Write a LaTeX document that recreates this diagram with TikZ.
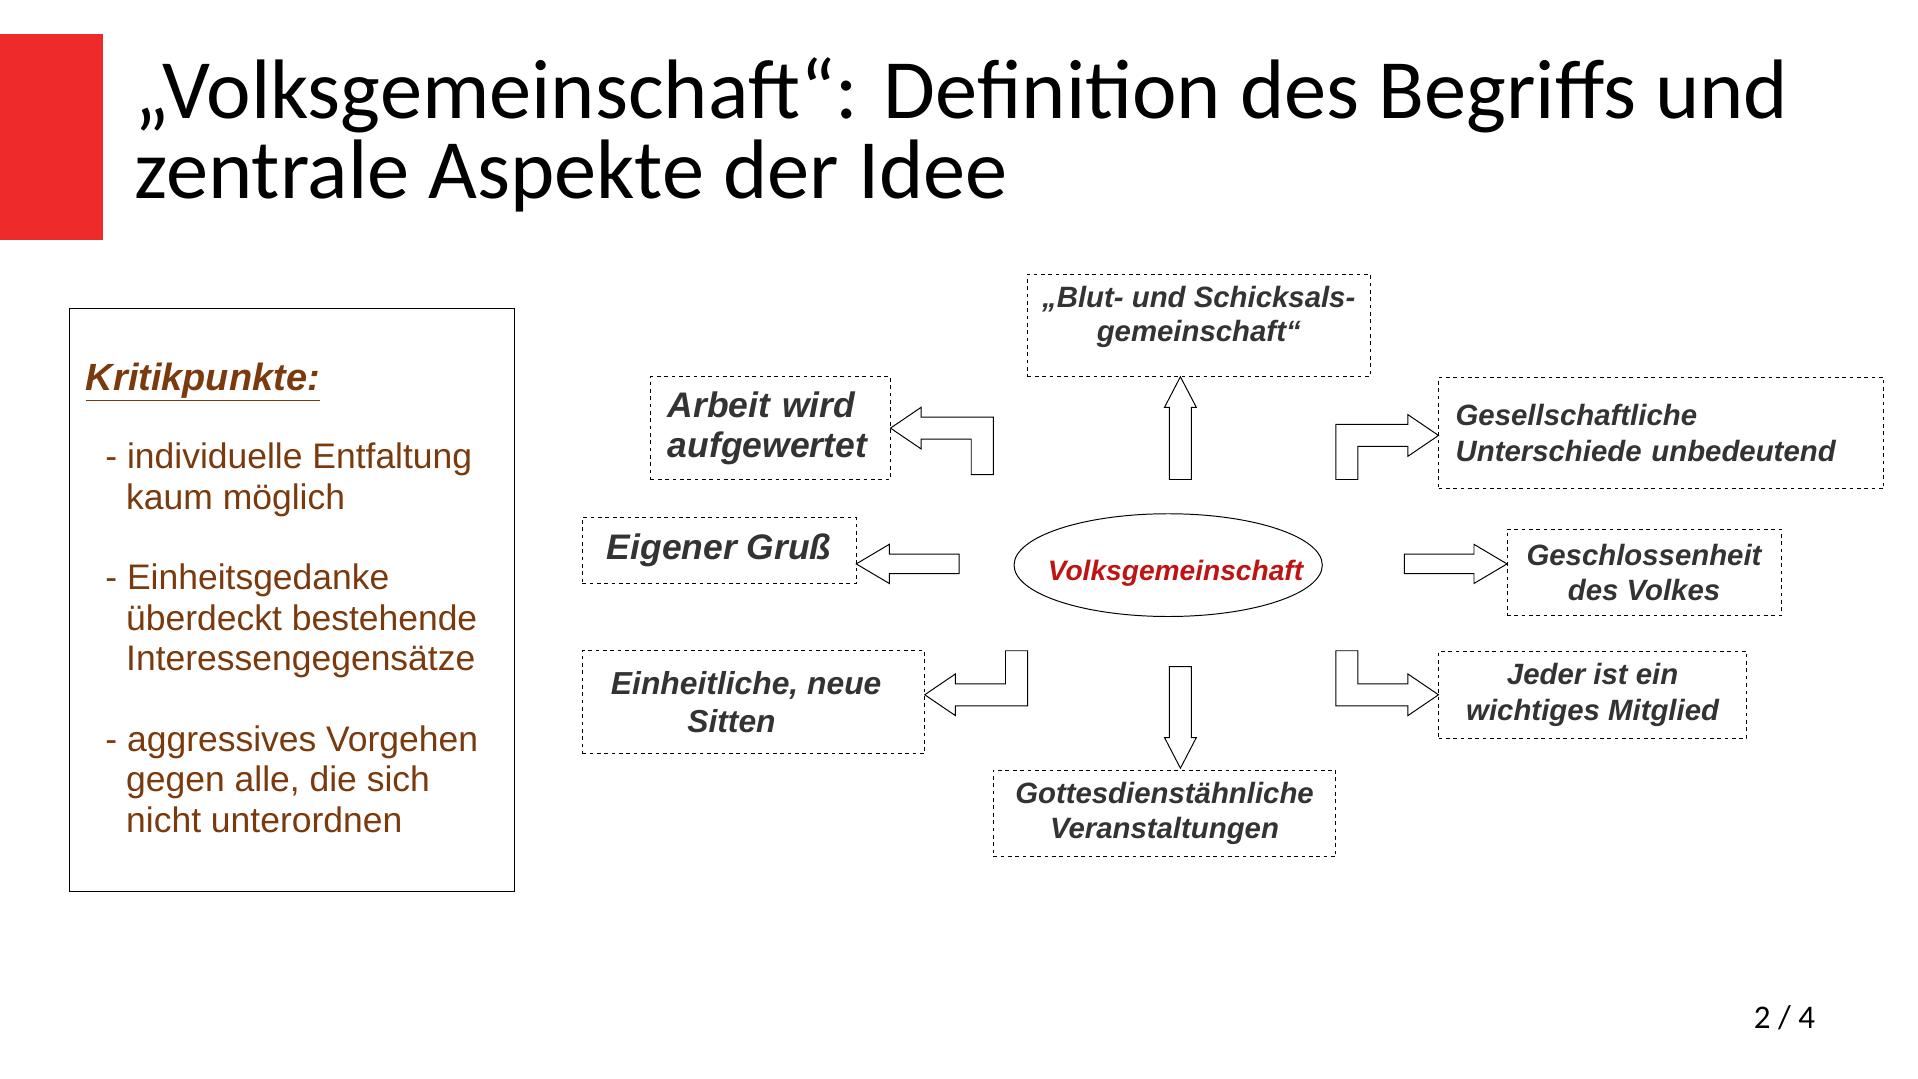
\documentclass[tikz,border=0pt]{standalone}
\usepackage{fontspec}
\setmainfont{Liberation Sans}
\newfontfamily\titlefont{Carlito}
\usetikzlibrary{shapes.geometric}
\definecolor{titlered}{HTML}{EE2A2A}
\definecolor{brn}{HTML}{7A3A0E}
\definecolor{dk}{HTML}{333333}
\definecolor{cred}{HTML}{BE1414}
\tikzset{
 dbox/.style={draw,dashed,thick,inner sep=0pt,text=dk,align=center},
 lbox/.style={dbox,align=left,text width=#1},
 barrow/.style={draw,thick,fill=white}
}
\begin{document}
\begin{tikzpicture}[x=1pt,y=-1pt]
\useasboundingbox (0,0) rectangle (1568,882);
\fill[white] (0,0) rectangle (1568,882);
\fill[titlered] (0,28) rectangle (84,196);
\node[anchor=base west,inner sep=0pt,font=\titlefont\fontsize{69}{72}\selectfont] (t1) at (110,97) {„Volksgemeinschaft“: Definition des Begriffs und};
\node[anchor=base west,inner sep=0pt,font=\titlefont\fontsize{69}{72}\selectfont] (t2) at (110,162) {zentrale Aspekte der Idee};
\node[draw,thick,minimum width=364pt,minimum height=476pt,anchor=north west] (krit) at (56,252) {};
\node[anchor=base west,inner sep=0pt,text=brn,font=\fontsize{31}{34}\selectfont\bfseries\itshape] (kt) at (70,319) {\underline{Kritikpunkte:}};
\node[anchor=north west,inner sep=0pt,text=brn,align=left,font=\fontsize{29}{33}\selectfont] (k1) at (86,362) {- individuelle Entfaltung\\\hspace*{17pt}kaum möglich};
\node[anchor=north west,inner sep=0pt,text=brn,align=left,font=\fontsize{29}{33}\selectfont] (k2) at (86,461) {- Einheitsgedanke\\\hspace*{17pt}überdeckt bestehende\\\hspace*{17pt}Interessengegensätze};
\node[anchor=north west,inner sep=0pt,text=brn,align=left,font=\fontsize{29}{33}\selectfont] (k3) at (86,593) {- aggressives Vorgehen\\\hspace*{17pt}gegen alle, die sich\\\hspace*{17pt}nicht unterordnen};
\node[draw,thick,ellipse,minimum width=252pt,minimum height=84pt,inner sep=0pt] (c) at (955,462) {};
\node[inner sep=0pt,text=cred,font=\fontsize{23}{26}\selectfont\bfseries\itshape] (ct) at (961,469) {Volksgemeinschaft};
\node[dbox,minimum width=280pt,minimum height=84pt] (b1) at (980,266) {};
\node[inner sep=0pt,text=dk,align=center,font=\fontsize{24}{28}\selectfont\bfseries\itshape] (b1t) at (980,259) {„Blut- und Schicksals-\\gemeinschaft“};
\node[lbox=196pt,minimum height=84pt,font=\fontsize{29}{33}\selectfont\bfseries\itshape] (b2) at (630,350) {\hspace*{14pt}Arbeit wird\\\hspace*{14pt}aufgewertet};
\node[lbox=364pt,minimum height=91pt,font=\fontsize{24}{29}\selectfont\bfseries\itshape] (b3) at (1358,354) {\hspace*{14pt}Gesellschaftliche\\\hspace*{14pt}Unterschiede unbedeutend};
\node[dbox,minimum width=224pt,minimum height=54pt,font=\fontsize{29}{33}\selectfont\bfseries\itshape] (b4) at (588,450) {Eigener Gruß};
\node[dbox,minimum width=224pt,minimum height=71pt,font=\fontsize{24}{29}\selectfont\bfseries\itshape] (b5) at (1344,468) {Geschlossenheit\\des Volkes};
\node[dbox,minimum width=280pt,minimum height=84pt,font=\fontsize{26}{31}\selectfont\bfseries\itshape] (b6) at (616,574) {\hspace*{-12pt}Einheitliche, neue\\\hspace*{-36pt}Sitten};
\node[dbox,minimum width=252pt,minimum height=71pt,font=\fontsize{24}{29}\selectfont\bfseries\itshape] (b7) at (1302,568) {Jeder ist ein\\wichtiges Mitglied};
\node[dbox,minimum width=280pt,minimum height=71pt,font=\fontsize{24}{29}\selectfont\bfseries\itshape] (b8) at (952,665) {Gottesdienstähnliche\\Veranstaltungen};
\draw[barrow] (956,392) -- (956,333) -- (952,333) -- (965,308) -- (978,333) -- (974,333) -- (974,392) -- cycle;
\draw[barrow] (956,545) -- (956,603) -- (952,603) -- (965,628) -- (978,603) -- (974,603) -- (974,545) -- cycle;
\draw[barrow] (784,453)--(727,453)--(727,445)--(700,461)--(727,477)--(727,469)--(784,469)--cycle;
\draw[barrow] (1148,453)--(1205,453)--(1205,445)--(1232,461)--(1205,477)--(1205,469)--(1148,469)--cycle;
\draw[barrow] (812,388) -- (812,341) -- (753,341) -- (753,333) -- (728,350) -- (753,367) -- (753,359) -- (794,359) -- (794,388) -- cycle;
\draw[barrow] (840,532) -- (840,577) -- (781,577) -- (781,585) -- (756,568) -- (781,551) -- (781,559) -- (822,559) -- (822,532) -- cycle;
\draw[barrow] (1092,392) -- (1092,347) -- (1151,347) -- (1151,339) -- (1176,356) -- (1151,373) -- (1151,365) -- (1110,365) -- (1110,392) -- cycle;
\draw[barrow] (1092,532) -- (1092,577) -- (1151,577) -- (1151,585) -- (1176,568) -- (1151,551) -- (1151,559) -- (1110,559) -- (1110,532) -- cycle;
\node[anchor=base east,inner sep=0pt,font=\titlefont\fontsize{27}{30}\selectfont] (pg) at (1484,841) {2 / 4};
\end{tikzpicture}
\end{document}
